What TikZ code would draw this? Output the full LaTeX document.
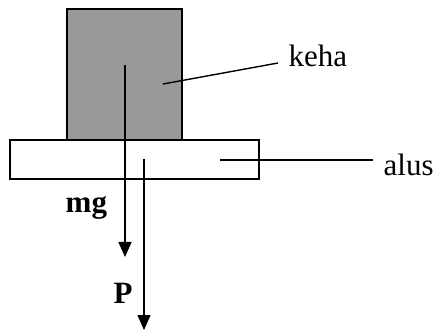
\documentclass[tikz,border=0pt]{standalone}
\usepackage{fontspec}
\setmainfont{Liberation Serif}
\usetikzlibrary{arrows.meta}
\definecolor{blockgray}{RGB}{153,153,153}

\begin{document}
\begin{tikzpicture}[x=1pt,y=-1pt,line width=1.4pt,
  lbl/.style={font=\fontsize{31}{36}\selectfont,inner sep=0pt},
  force/.style={-{Triangle[length=15pt,width=13pt]},line width=1.6pt}]
  \useasboundingbox (0,0) rectangle (434,331);
  % surface and body
  \node[draw,fill=white,minimum width=249pt,minimum height=39pt,inner sep=0pt] (plate) at (134.5,159.5) {};
  \node[draw,fill=blockgray,minimum width=115pt,minimum height=131pt,inner sep=0pt] (block) at (124.5,74.5) {};
  % forces
  \coordinate (mg start) at (125,65);
  \coordinate (mg end) at (125,257);
  \coordinate (P start) at (144,159);
  \coordinate (P end) at (144,330);
  \draw[force] (mg start) -- (mg end);
  \draw[force] (P start) -- (P end);
  \node[lbl,font=\fontsize{31}{36}\selectfont\bfseries,anchor=base west] (mg) at (65,213) {mg};
  \node[lbl,font=\fontsize{31}{36}\selectfont\bfseries,anchor=base west] (P) at (113,303) {P};
  % labels
  \node[lbl,anchor=base west] (keha) at (288,67) {keha};
  \node[lbl,anchor=base west] (alus) at (383,176) {alus};
  \coordinate (keha in) at (163,84);
  \coordinate (keha out) at (278,63);
  \coordinate (alus in) at (220,160);
  \coordinate (alus out) at (373,160);
  \draw (keha in) -- (keha out);
  \draw (alus in) -- (alus out);
\end{tikzpicture}
\end{document}
